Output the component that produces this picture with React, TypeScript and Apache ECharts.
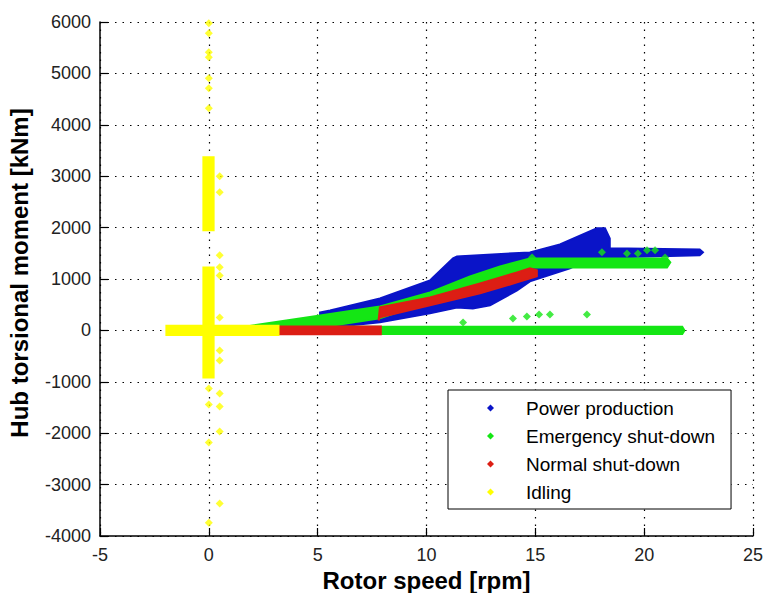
import React, { useEffect, useRef } from "react";
import * as echarts from "echarts";

// ---- Data ----
const seriesNames = ["Power production", "Emergency shut-down", "Normal shut-down", "Idling"];
const seriesColors = ["#0a14c8", "#14e614", "#dc1e14", "#ffff00"];

const xTicks = { min: -5, max: 25, interval: 5 };
const yTicks = { min: -4000, max: 6000, interval: 1000 };

// Power production: dense cloud outline [rpm, kNm]
const powerCloud: number[][] = [
  [5.11, 350], [5.57, 389], [7.86, 623], [10.16, 973], [10.3, 1031], [11.22, 1401],
  [11.4, 1440], [14.75, 1518], [16.13, 1673], [17.83, 1985], [18.2, 1985], [18.42, 1790],
  [18.42, 1596], [22.55, 1576], [22.7, 1518], [22.55, 1460], [18.42, 1420], [17.5, 1401],
  [16.59, 1206], [14.75, 953], [14.16, 778], [12.92, 487], [12.13, 428], [11.4, 447],
  [10.16, 331], [7.86, 156], [5.57, 58], [5.11, 97],
];

// Emergency shut-down: rising band, zero-moment line, isolated points
const emergencyBand: number[][] = [
  [0.97, 19], [1.75, 78], [5.11, 292], [7.86, 467], [10.16, 739], [12.0, 1051],
  [13.38, 1245], [14.75, 1401], [21.05, 1401], [21.2, 1323], [21.05, 1226],
  [14.75, 1226], [13.38, 1051], [12.0, 837], [10.16, 564], [7.86, 234], [5.11, 58],
  [1.75, -19], [0.97, -19],
];
const emergencyZeroLine: number[][] = [
  [3.2, 70], [21.75, 70], [21.85, 0], [21.75, -70], [3.2, -70],
];
const emergencyPoints: number[][] = [
  [11.68, 156], [13.97, 233], [14.61, 272], [15.17, 311], [15.67, 311], [17.37, 311],
  [18.06, 1518], [19.21, 1498], [19.71, 1498], [20.13, 1557], [20.5, 1557], [20.96, 1420],
  [14.85, 1420],
];

// Normal shut-down
const normalZeroLine: number[][] = [
  [3.2, 75], [7.9, 75], [7.9, -75], [3.2, -75],
];
const normalBand: number[][] = [
  [7.8, 195], [7.86, 448], [10.16, 642], [12.46, 915], [14.16, 1129], [14.75, 1206],
  [15.07, 1168], [15.07, 1051], [14.16, 934], [12.46, 720], [10.16, 487], [7.86, 253],
];

// Idling
const idlingZeroLine: number[][] = [
  [-1.95, 90], [3.2, 90], [3.2, -90], [-1.95, -90],
];
const idlingStripLow: number[][] = [
  [-0.25, 1226], [0.22, 1226], [0.22, -915], [-0.25, -915],
];
const idlingStripHigh: number[][] = [
  [-0.25, 3370], [0.22, 3370], [0.22, 1950], [-0.25, 1950],
];
const idlingPoints: number[][] = [
  [0, 5974], [0, 5780], [0, 5410], [0, 5312], [0, 4904], [0, 4710], [0, 4320],
  [0, -1130], [0, -1440], [0, -2180], [0, -3740],
  [0.5, 3000], [0.5, 2690], [0.5, 1460], [0.5, 1230], [0.5, 1070], [0.5, 253],
  [0.5, -389], [0.5, -584], [0.5, -1226], [0.5, -1480], [0.5, -1965], [0.5, -3370],
];

const FONT = "'Liberation Sans', Arial, Helvetica, sans-serif";

function polygonSeries(name: string, color: string, polys: number[][][]) {
  return {
    type: "custom",
    name,
    coordinateSystem: "cartesian2d",
    silent: true,
    clip: true,
    itemStyle: { color },
    data: polys.map((p) => p[0]),
    renderItem: (params: any, api: any) => {
      const poly = polys[params.dataIndex];
      return {
        type: "polygon",
        shape: { points: poly.map((pt) => api.coord(pt)) },
        style: { fill: color, stroke: color, lineWidth: 2 },
      };
    },
  };
}

function pointSeries(name: string, color: string, pts: number[][]) {
  return {
    type: "scatter",
    name,
    symbol: "diamond",
    symbolSize: 8,
    silent: true,
    itemStyle: { color },
    data: pts,
  };
}

export default function App() {
  const ref = useRef<HTMLDivElement>(null);
  useEffect(() => {
    if (!ref.current) return;
    const chart = echarts.init(ref.current, undefined, { renderer: "svg" });
    const dotted = { type: [1.5, 6], color: "#000", width: 1.2 };
    chart.setOption({
      animation: false,
      backgroundColor: "#ffffff",
      grid: { left: 100, right: 13, top: 22, bottom: 57, containLabel: false, outerBoundsMode: "none" },
      xAxis: {
        type: "value",
        min: xTicks.min,
        max: xTicks.max,
        interval: xTicks.interval,
        name: "Rotor speed [rpm]",
        nameLocation: "middle",
        nameGap: 31,
        nameTextStyle: { fontFamily: FONT, fontSize: 24, fontWeight: "bold", color: "#000" },
        axisLine: { onZero: false, lineStyle: { color: "#000", width: 1.5 } },
        axisTick: { inside: true, length: 8, lineStyle: { color: "#000", width: 1.2 } },
        axisLabel: { fontFamily: FONT, fontSize: 18, color: "#222", margin: 10, formatter: (v: number) => String(v) },
        splitLine: { show: true, lineStyle: dotted },
      },
      yAxis: {
        type: "value",
        min: yTicks.min,
        max: yTicks.max,
        interval: yTicks.interval,
        name: "Hub torsional moment [kNm]",
        nameLocation: "middle",
        nameGap: 69,
        nameTextStyle: {
          fontFamily: FONT, fontSize: 24, fontWeight: "bold", color: "#000",
          padding: [0, 0, 0, 12],
        },
        axisLine: { show: true, onZero: false, lineStyle: { color: "#000", width: 1.5 } },
        axisTick: { show: true, inside: true, length: 8, lineStyle: { color: "#000", width: 1.2 } },
        axisLabel: { fontFamily: FONT, fontSize: 18, color: "#222", margin: 9, formatter: (v: number) => String(v) },
        splitLine: { show: true, lineStyle: dotted },
      },
      legend: {
        orient: "vertical",
        left: 448,
        top: 390,
        padding: [8, 16, 7, 39],
        itemWidth: 7,
        itemHeight: 7,
        itemGap: 8,
        selectedMode: false,
        backgroundColor: "#ffffff",
        borderColor: "#000",
        borderWidth: 1,
        textStyle: { fontFamily: FONT, fontSize: 19, lineHeight: 20, color: "#000", padding: [0, 0, 0, 27] },
        data: seriesNames.map((n) => ({ name: n, icon: "diamond" })),
      },
      series: [
        polygonSeries(seriesNames[0], seriesColors[0], [powerCloud]),
        polygonSeries(seriesNames[1], seriesColors[1], [emergencyBand, emergencyZeroLine]),
        pointSeries(seriesNames[1], seriesColors[1], emergencyPoints),
        polygonSeries(seriesNames[2], seriesColors[2], [normalZeroLine, normalBand]),
        polygonSeries(seriesNames[3], seriesColors[3], [idlingZeroLine, idlingStripLow, idlingStripHigh]),
        pointSeries(seriesNames[3], seriesColors[3], idlingPoints),
      ],
    });
    return () => chart.dispose();
  }, []);
  return (
    <div
      ref={ref}
      style={{ position: "absolute", left: 0, top: 0, width: 766, height: 593 }}
    />
  );
}
